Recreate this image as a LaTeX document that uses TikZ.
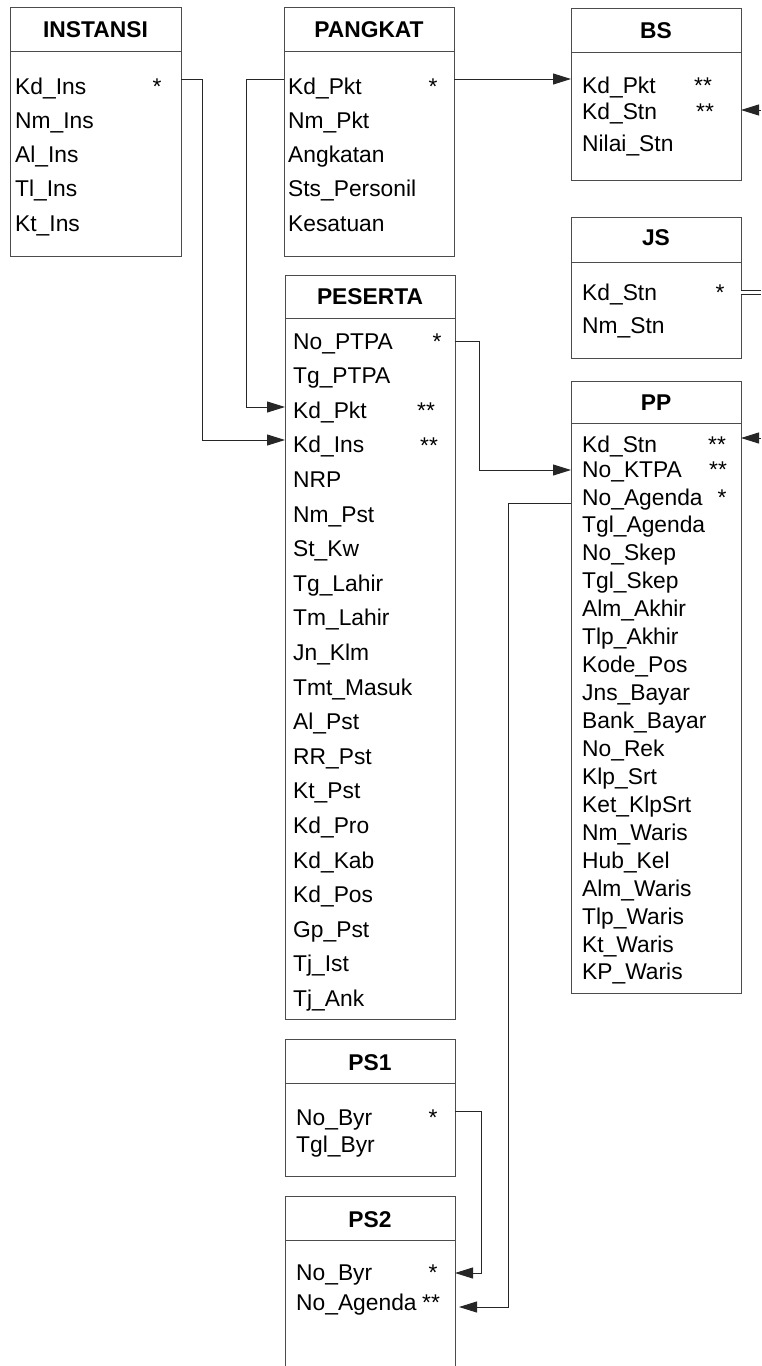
\documentclass[tikz,border=0pt]{standalone}
\usepackage{fontspec}
\setmainfont{Liberation Sans}
\usetikzlibrary{arrows.meta,calc}
\tikzset{
  tbl/.style={draw=black!70, line width=1pt, anchor=north west, inner sep=0pt, outer sep=0pt, minimum width=170pt},
  hdr/.style={draw=black!70, line width=1pt},
  ttl/.style={anchor=base, font=\fontsize{22.8}{27}\selectfont\bfseries, inner sep=0pt},
  fld/.style={anchor=base west, font=\fontsize{22.8}{27}\selectfont, inner sep=0pt},
  keymark/.style={anchor=base, font=\fontsize{22.8}{27}\selectfont, inner sep=0pt},
  conn/.style={draw=black!85, line width=1pt},
  arr/.style={conn, -{Triangle[length=18pt,width=11pt]}},
}
\begin{document}
\begin{tikzpicture}[x=1pt,y=-1pt]
\useasboundingbox (0,0) rectangle (761,1366);

% ---------- INSTANSI ----------
\node[tbl, minimum width=171pt, minimum height=249pt] (ins) at (10,7) {};
\draw[hdr] (ins.west |- 0,51) -- (ins.east |- 0,51);
\node[ttl] (insT) at (95.5,37) {INSTANSI};
\foreach \t [count=\i from 0] in {Kd\_Ins, Nm\_Ins, Al\_Ins, Tl\_Ins, Kt\_Ins}
  \node[fld] (ins\i) at (15,{94+\i*34.25}) {\t};
\node[keymark] (insK) at (157,94) {*};

% ---------- PANGKAT ----------
\node[tbl, minimum height=249pt] (pkt) at (284,7) {};
\draw[hdr] (pkt.west |- 0,51) -- (pkt.east |- 0,51);
\node[ttl] (pktT) at (369,37) {PANGKAT};
\foreach \t [count=\i from 0] in {Kd\_Pkt, Nm\_Pkt, Angkatan, Sts\_Personil, Kesatuan}
  \node[fld] (pkt\i) at (288,{94+\i*34.25}) {\t};
\node[keymark] (pktK) at (433,94) {*};

% ---------- BS ----------
\node[tbl, minimum height=172pt] (bs) at (571,8) {};
\draw[hdr] (bs.west |- 0,52) -- (bs.east |- 0,52);
\node[ttl] (bsT) at (656,38) {BS};
\node[fld] (bs0) at (582,93) {Kd\_Pkt};
\node[fld] (bs1) at (582,119) {Kd\_Stn};
\node[fld] (bs2) at (582,151) {Nilai\_Stn};
\node[keymark] (bsK0) at (703,93) {**};
\node[keymark] (bsK1) at (705,119) {**};

% ---------- JS ----------
\node[tbl, minimum height=141pt] (js) at (571,217) {};
\draw[hdr] (js.west |- 0,262) -- (js.east |- 0,262);
\node[ttl] (jsT) at (656,245) {JS};
\node[fld] (js0) at (582,300) {Kd\_Stn};
\node[fld] (js1) at (582,333) {Nm\_Stn};
\node[keymark] (jsK) at (720,300) {*};

% ---------- PP ----------
\node[tbl, minimum height=612pt] (pp) at (571,381) {};
\draw[hdr] (pp.west |- 0,423) -- (pp.east |- 0,423);
\node[ttl] (ppT) at (656,410) {PP};
\node[fld] (pp0) at (582,452) {Kd\_Stn};
\node[fld] (pp1) at (582,477) {No\_KTPA};
\foreach \t [count=\i from 2] in {No\_Agenda, Tgl\_Agenda, No\_Skep, Tgl\_Skep, Alm\_Akhir, Tlp\_Akhir, Kode\_Pos, Jns\_Bayar, Bank\_Bayar, No\_Rek, Klp\_Srt, Ket\_KlpSrt, Nm\_Waris, Hub\_Kel, Alm\_Waris, Tlp\_Waris, Kt\_Waris, KP\_Waris}
  \node[fld] (pp\i) at (582,{505+(\i-2)*27.94}) {\t};
\node[keymark] (ppK0) at (717,452) {**};
\node[keymark] (ppK1) at (718,477) {**};
\node[keymark] (ppK2) at (722,505) {*};

% ---------- PESERTA ----------
\node[tbl, minimum height=744pt] (pes) at (285,275) {};
\draw[hdr] (pes.west |- 0,318) -- (pes.east |- 0,318);
\node[ttl] (pesT) at (370,304) {PESERTA};
\foreach \t [count=\i from 0] in {No\_PTPA, Tg\_PTPA, Kd\_Pkt, Kd\_Ins, NRP, Nm\_Pst, St\_Kw, Tg\_Lahir, Tm\_Lahir, Jn\_Klm, Tmt\_Masuk, Al\_Pst, RR\_Pst, Kt\_Pst, Kd\_Pro, Kd\_Kab, Kd\_Pos, Gp\_Pst, Tj\_Ist, Tj\_Ank}
  \node[fld] (pes\i) at (293,{349+\i*34.6}) {\t};
\node[keymark] (pesK0) at (437,349) {*};
\node[keymark] (pesK2) at (426,418) {**};
\node[keymark] (pesK3) at (429,453) {**};

% ---------- PS1 ----------
\node[tbl, minimum height=137pt] (ps1) at (285,1039) {};
\draw[hdr] (ps1.west |- 0,1083) -- (ps1.east |- 0,1083);
\node[ttl] (ps1T) at (370,1070) {PS1};
\node[fld] (ps10) at (296,1125) {No\_Byr};
\node[fld] (ps11) at (296,1152) {Tgl\_Byr};
\node[keymark] (ps1K) at (433,1125) {*};

% ---------- PS2 ----------
\node[tbl, minimum height=185pt] (ps2) at (285,1196) {};
\draw[hdr] (ps2.west |- 0,1240) -- (ps2.east |- 0,1240);
\node[ttl] (ps2T) at (370,1227) {PS2};
\node[fld] (ps20) at (296,1280) {No\_Byr};
\node[fld] (ps21) at (296,1310) {No\_Agenda};
\node[keymark] (ps2K0) at (433,1280) {*};
\node[keymark] (ps2K1) at (431,1310) {**};

% ---------- off-page ends ----------
\coordinate (eBS) at (761,110);
\coordinate (eJS) at (761,292.5);
\coordinate (ePP) at (761,438);

% ---------- connectors ----------
\draw[arr] (ins.east |- 0,79) -| (202,440) -- (pes.west |- 0,440);
\draw[arr] (pkt.west |- 0,79) -| (246,407) -- (pes.west |- 0,407);
\draw[arr] (pkt.east |- 0,79) -- (bs.west |- 0,79);
\draw[arr] (pes.east |- 0,341) -| (479,470) -- (pp.west |- 0,470);
\draw[arr, shorten >=4pt] (pp.west |- 0,503) -| (508,1307) -- (ps2.east |- 0,1307);
\draw[arr] (ps1.east |- 0,1111) -| (481,1273) -- (ps2.east |- 0,1273);
\draw[arr] (eBS) -- (bs.east |- eBS);
\draw[arr] (ePP) -- (pp.east |- ePP);
\draw[draw=black!85, line width=1pt, double=white, double distance=3.5pt] (js.east |- eJS) -- (eJS);
\end{tikzpicture}
\end{document}
